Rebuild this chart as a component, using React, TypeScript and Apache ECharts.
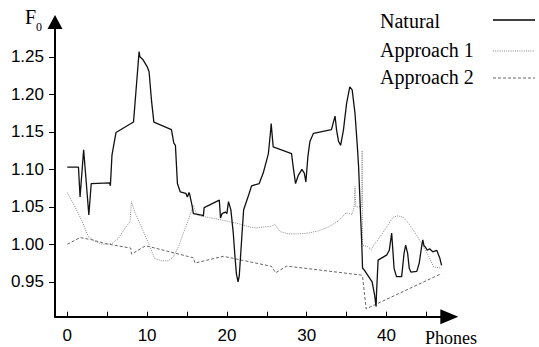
import React, { useEffect, useRef } from "react";
import * as echarts from "echarts";

const naturalData: [number, number][] = [
  [0, 1.103], [1.4, 1.103], [1.6, 1.063], [2.05, 1.126], [2.7, 1.039], [3.0, 1.081],
  [5.3, 1.082], [5.4, 1.078], [5.6, 1.119], [6.1, 1.149], [8.3, 1.163], [9.0, 1.257],
  [9.1, 1.25], [9.5, 1.246], [10.0, 1.237], [10.25, 1.23], [10.55, 1.192], [10.85, 1.163],
  [13.05, 1.153], [13.35, 1.135], [13.55, 1.132], [13.8, 1.081], [14.15, 1.07], [14.85, 1.068],
  [15.05, 1.063], [15.25, 1.069], [15.35, 1.066], [15.65, 1.051], [15.8, 1.041], [16.85, 1.039],
  [17.05, 1.038], [17.15, 1.049], [19.05, 1.059], [19.2, 1.035], [19.4, 1.041], [19.8, 1.043],
  [20.0, 1.041], [20.2, 1.057], [20.5, 1.046], [20.8, 1.015], [21.0, 0.985], [21.2, 0.96],
  [21.4, 0.95], [21.55, 0.958], [21.75, 0.99], [21.9, 1.015], [22.1, 1.046], [22.8, 1.068],
  [23.1, 1.078], [24.05, 1.081], [24.55, 1.095], [25.2, 1.121], [25.45, 1.148], [25.55, 1.161],
  [25.8, 1.13], [28.1, 1.121], [28.3, 1.104], [28.6, 1.081], [28.95, 1.092], [29.4, 1.1],
  [29.7, 1.095], [29.9, 1.083], [30.15, 1.117], [30.4, 1.137], [30.85, 1.148], [33.1, 1.153],
  [33.55, 1.171], [33.75, 1.152], [34.0, 1.137], [34.25, 1.132], [34.6, 1.152], [35.0, 1.188],
  [35.4, 1.21], [35.7, 1.206], [36.05, 1.175], [36.35, 1.13], [36.5, 1.104], [36.9, 1.001],
  [37.0, 0.968], [37.2, 0.966], [38.2, 0.95], [38.5, 0.933], [38.7, 0.917], [38.75, 0.935],
  [38.95, 0.979], [40.05, 0.986], [40.35, 0.992], [40.65, 1.015], [40.95, 0.968], [41.25, 0.957],
  [41.9, 0.957], [42.2, 0.988], [42.4, 0.999], [42.65, 0.988], [42.85, 0.968], [43.05, 0.963],
  [43.8, 0.964], [44.1, 0.975], [44.4, 0.997], [44.55, 1.006], [44.7, 0.998], [44.9, 0.996],
  [45.1, 0.992], [45.4, 0.994], [45.8, 0.99], [46.3, 0.992], [46.7, 0.981], [46.9, 0.972],
];

const approach1Data: [number, number][] = [
  [0, 1.069], [0.97, 1.05], [1.8, 1.032], [2.65, 1.01], [3.5, 1.004], [4.3, 1.0],
  [5.6, 1.001], [6.4, 1.008], [7.2, 1.021], [7.85, 1.03], [8.05, 1.057], [8.45, 1.043],
  [9.3, 1.023], [10.35, 0.997], [10.95, 0.981], [11.85, 0.978], [12.65, 0.978], [13.25, 0.983],
  [13.95, 0.997], [14.55, 1.015], [15.15, 1.032], [15.6, 1.046], [15.8, 1.052], [16.25, 1.039],
  [17.05, 1.037], [19.1, 1.033], [20.4, 1.03], [21.6, 1.027], [22.9, 1.023], [23.7, 1.022],
  [24.55, 1.023], [25.6, 1.024], [26.0, 1.027], [26.65, 1.017], [27.7, 1.014], [28.95, 1.014],
  [30.2, 1.015], [31.5, 1.018], [32.7, 1.023], [33.95, 1.031], [34.95, 1.042], [35.7, 1.04],
  [35.95, 1.05], [36.05, 1.077], [36.15, 1.05], [36.9, 1.05], [36.95, 1.125], [37.0, 0.999],
  [37.6, 0.997], [38.1, 0.993], [38.4, 0.999], [39.2, 1.01], [40.2, 1.026], [40.8, 1.036],
  [41.45, 1.038], [42.1, 1.036], [42.9, 1.026], [43.8, 1.012], [44.6, 0.997], [45.3, 0.984],
  [45.9, 0.97], [46.9, 0.968],
];

const approach2Data: [number, number][] = [
  [0, 1.0], [1.6, 1.009], [3.1, 1.006], [4.75, 1.001], [6.85, 0.997], [7.95, 0.995],
  [8.05, 0.987], [9.8, 0.998], [11.0, 0.995], [15.8, 0.982], [16.0, 0.975], [19.55, 0.984],
  [25.45, 0.971], [25.65, 0.97], [26.1, 0.962], [27.5, 0.971], [36.85, 0.959], [37.0, 0.957],
  [37.45, 0.914], [46.9, 0.961],
];

const xTickValues = [0, 5, 10, 15, 20, 25, 30, 35, 40, 45];
const xLabelValues = [0, 10, 20, 30, 40];
const yTickValues = [0.95, 1.0, 1.05, 1.1, 1.15, 1.2, 1.25];

const legendNames = ["Natural", "Approach 1", "Approach 2"];

export default function App() {
  const ref = useRef<HTMLDivElement>(null);
  useEffect(() => {
    if (!ref.current) return;
    const chart = echarts.init(ref.current, null, { renderer: "svg" });
    const serif = "'Liberation Serif', 'Times New Roman', serif";
    const sans = "'Liberation Sans', Arial, sans-serif";
    const legendY = [21, 50, 77];
    const legendLineY = [20, 51, 78];
    const legendStyles: any[] = [
      { stroke: "#000", lineWidth: 1.4 },
      { stroke: "#888", lineWidth: 1, lineDash: [1, 1.2] },
      { stroke: "#666", lineWidth: 1, lineDash: [3, 2] },
    ];
    const graphics: any[] = [
      { type: "text", left: 25, top: 7, style: { text: "F", font: `20px ${serif}`, fill: "#000" } },
      { type: "text", left: 36, top: 21, style: { text: "0", font: `12px ${serif}`, fill: "#000" } },
      { type: "text", left: 425, top: 329, style: { text: "Phones", font: `18px ${serif}`, fill: "#000" } },
    ];
    legendNames.forEach((n, i) => {
      graphics.push({
        type: "text",
        x: 380,
        y: legendY[i],
        style: { text: n, font: `20px ${serif}`, fill: "#000", verticalAlign: "middle", align: "left" },
      });
      graphics.push({
        type: "line",
        shape: { x1: 493, y1: legendLineY[i], x2: 535, y2: legendLineY[i] },
        style: legendStyles[i],
      });
    });

    chart.setOption({
      animation: false,
      backgroundColor: "#fff",
      grid: { left: 55, right: 89.7, top: 22, bottom: 30.3, containLabel: false, outerBoundsMode: "none" } as any,
      xAxis: {
        type: "value",
        min: -1.54,
        max: 47.87,
        axisLine: {
          show: true,
          onZero: false,
          symbol: ["none", "triangle"],
          symbolSize: [15, 18],
          lineStyle: { color: "#000", width: 2 },
        },
        axisTick: { show: true, inside: true, length: 5, customValues: xTickValues, lineStyle: { color: "#000", width: 1 } } as any,
        axisLabel: { customValues: xLabelValues, fontSize: 17, fontFamily: sans, color: "#000", margin: 10 } as any,
        splitLine: { show: false },
      },
      yAxis: {
        type: "value",
        min: 0.9035,
        max: 1.2964,
        axisLine: {
          show: true,
          onZero: false,
          symbol: ["none", "triangle"],
          symbolSize: [15, 14],
          lineStyle: { color: "#000", width: 2 },
        },
        axisTick: { show: true, inside: false, length: 6, customValues: yTickValues, lineStyle: { color: "#000", width: 1 } } as any,
        axisLabel: {
          customValues: yTickValues,
          formatter: (v: number) => v.toFixed(2),
          fontSize: 17,
          fontFamily: sans,
          color: "#000",
          margin: 11,
        } as any,
        splitLine: { show: false },
      },
      graphic: graphics,
      series: [
        {
          name: legendNames[1],
          type: "line",
          data: approach1Data,
          showSymbol: false,
          symbol: "none",
          lineStyle: { color: "#8a8a8a", width: 1, type: [1, 1.2] },
          z: 2,
        },
        {
          name: legendNames[2],
          type: "line",
          data: approach2Data,
          showSymbol: false,
          symbol: "none",
          lineStyle: { color: "#666", width: 1, type: [3, 2] },
          z: 2,
        },
        {
          name: legendNames[0],
          type: "line",
          data: naturalData,
          showSymbol: false,
          symbol: "none",
          lineStyle: { color: "#111", width: 1.3 },
          z: 3,
        },
      ],
    });
    return () => chart.dispose();
  }, []);
  return (
    <div
      ref={ref}
      style={{ position: "absolute", left: 0, top: 0, width: 539, height: 347, background: "#fff" }}
    />
  );
}
